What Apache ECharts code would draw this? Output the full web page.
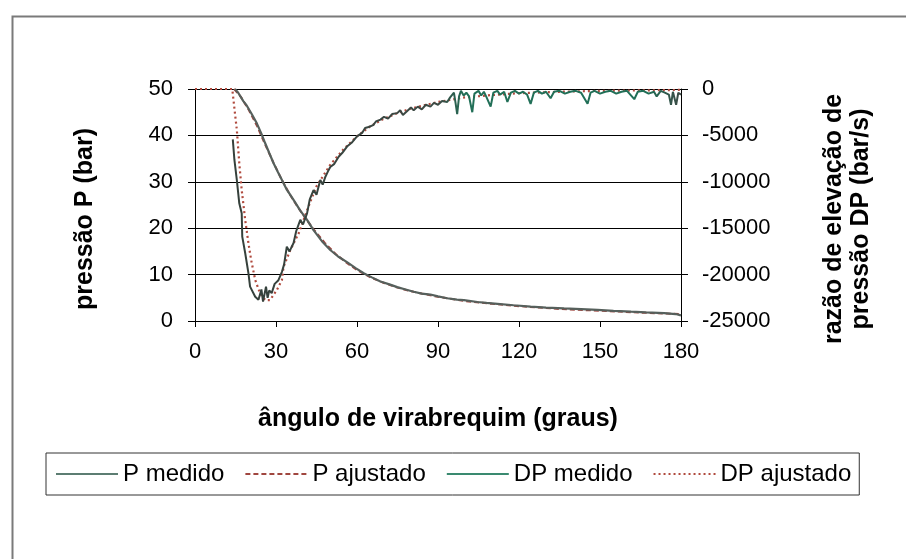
<!DOCTYPE html>
<html>
<head>
<meta charset="utf-8">
<script src="https://cdn.jsdelivr.net/npm/echarts@6/dist/echarts.min.js"></script>
<style>
html,body{margin:0;padding:0;background:#fff;}
#c{width:906px;height:559px;}
</style>
</head>
<body>
<div id="c"></div>
<script>
// ---- data ----
const xTicks = [0, 30, 60, 90, 120, 150, 180];
const pTicks = [0, 10, 20, 30, 40, 50];
const dpTicks = [-25000, -20000, -15000, -10000, -5000, 0];

const pMedAngle = [14.8, 16, 17.9, 19.2, 21, 22.9, 24.5, 26, 27.5, 29.1, 30.6, 32.2, 34, 36.5, 39, 41.5, 43.9, 47, 50.1, 53, 56.3, 59.5, 62.5, 65.5, 68.7, 72, 74.9, 78, 81, 84, 87.2, 90, 93.4, 97, 99.6, 104.6, 108, 112, 118, 124.3, 130, 136.7, 143, 149.1, 155, 161.5, 167, 173.8, 178, 180];
const pMedVal = [50, 49.2, 47.4, 46.4, 44.6, 42.6, 40.5, 38.3, 36.2, 34, 32.2, 30.4, 28.3, 26.1, 23.8, 21.8, 19.6, 17.2, 15.3, 13.9, 12.7, 11.4, 10.3, 9.4, 8.5, 7.9, 7.3, 6.8, 6.3, 5.9, 5.7, 5.3, 4.9, 4.6, 4.5, 4.1, 3.9, 3.7, 3.4, 3.1, 2.9, 2.7, 2.55, 2.4, 2.2, 2.0, 1.85, 1.7, 1.5, 1.2];

const pAjuAngle = [14.5, 17, 20, 23, 26, 29, 32, 35, 38, 41, 44, 48, 52, 56, 60, 65, 70, 75, 80, 90, 100, 110, 120, 135, 150, 165, 180];
const pAjuVal = [50, 48.3, 45.4, 42.0, 38.0, 34.2, 30.6, 27.4, 24.6, 22.1, 19.7, 16.9, 14.5, 12.6, 11.0, 9.4, 8.2, 7.2, 6.4, 5.2, 4.3, 3.7, 3.2, 2.6, 2.2, 1.8, 1.5];

const dpMedAngle = [14.0, 14.6, 15.5, 16.4, 17.3, 17.5, 18.6, 19.8, 20.4, 22.3, 23.5, 24.6, 25.2, 25.7, 26.3, 26.9, 27.5, 28.4, 29.5, 30.9, 32.2, 33, 34, 35, 36.5, 37.5, 39, 40, 41.5, 42.5, 43.9, 45, 46.4, 47.3, 48.3, 49.2, 50.1, 51.5, 53.2, 54.5, 56.3, 58, 60, 62, 63, 64.3, 66, 67, 68.7, 70, 71.5, 73, 74.9, 76, 77, 78.5, 80, 81, 82.5, 84, 85.5, 87.2, 88.5, 90, 91.5, 93.4, 94.5, 95.9, 96.5, 97.1, 97.8, 98.5, 99.5, 100.5, 101.5, 102.7, 103.5, 105, 106, 107, 108, 109.5, 110.5, 112, 113, 114.5, 115.7, 117, 118.5, 120, 121.5, 123, 124.3, 125.5, 127, 128.5, 130, 131.7, 133, 135, 137, 139, 141, 143, 145.4, 146.5, 148, 150, 152, 154, 156, 158, 160, 162.7, 164, 166, 168, 170, 171, 172.5, 174, 175.5, 176.3, 177, 178.2, 179, 180];
const dpMedVal = [-5420, -7650, -9810, -12320, -13390, -15900, -17700, -19860, -21300, -22380, -22700, -21600, -22900, -23100, -21300, -22500, -21700, -22000, -21000, -20600, -19700, -18900, -17000, -17500, -16600, -15300, -14100, -14600, -13400, -11900, -10900, -11400, -9800, -10300, -9450, -8900, -8400, -8100, -7300, -6900, -6200, -5800, -5100, -4700, -4200, -4100, -3900, -3500, -3300, -3000, -3200, -2700, -2600, -2300, -2800, -2400, -2000, -2300, -1900, -2200, -1700, -1900, -1500, -1700, -1300, -1400, -900, -400, -1500, -2700, -800, -200, -700, -400, -800, -2500, -500, -200, -700, -300, -900, -1900, -400, -200, -600, -300, -1400, -400, -200, -500, -300, -600, -1600, -400, -200, -500, -300, -1000, -300, -200, -500, -300, -200, -400, -1600, -400, -200, -500, -300, -200, -500, -300, -200, -1100, -300, -200, -500, -300, -800, -200, -400, -600, -1700, -300, -1700, -400, -600];

const dpAjuAngle = [0, 13.8, 14.2, 14.8, 15.5, 16.4, 17.3, 18.6, 19.8, 20.8, 22.3, 24.1, 26, 27.8, 30.3, 32.2, 32.8, 35.3, 38.4, 40.2, 42.5, 45, 50, 55, 60, 65, 70, 75, 80, 90, 100, 110, 120, 135, 150, 165, 180];
const dpAjuVal = [0, 0, -110, -2620, -4420, -8010, -10880, -14120, -16630, -18430, -20580, -22020, -22740, -22740, -21660, -20580, -19150, -17350, -15550, -14120, -12300, -10500, -8200, -6500, -5100, -4000, -3200, -2600, -2100, -1400, -900, -650, -450, -300, -200, -150, -100];

const names = ['P medido', 'P ajustado', 'DP medido', 'DP ajustado'];

const zip = (a, b) => a.map((x, i) => [x, b[i]]);
const FONT = '"Liberation Sans", Arial, sans-serif';

const dpMedColor = new echarts.graphic.LinearGradient(0, 0, 1, 0, [
  {offset: 0, color: '#35403b'},
  {offset: 0.46, color: '#3c4a44'},
  {offset: 0.52, color: '#216f57'},
  {offset: 0.92, color: '#216f57'},
  {offset: 1, color: '#3f4744'}
]);

const chart = echarts.init(document.getElementById('c'), null, {renderer: 'canvas'});
chart.setOption({
  animation: false,
  backgroundColor: '#fff',
  textStyle: {fontFamily: FONT, color: '#000'},
  graphic: [{
    type: 'rect', left: 10, top: 14, z: -10, silent: true,
    shape: {x: 0, y: 0, width: 1000, height: 1000},
    style: {fill: 'none', stroke: '#7a7a7a', lineWidth: 2}
  }],
  grid: {left: 195, right: 225, top: 89, bottom: 238, containLabel: false},
  legend: {
    data: [
      {name: names[0], lineStyle: {color: '#5c7d72'}},
      {name: names[1]},
      {name: names[2], lineStyle: {color: '#3a8a70'}},
      {name: names[3]}
    ],
    left: 46, top: 453,
    orient: 'horizontal',
    padding: [9, 8, 9, 9],
    itemGap: 20,
    itemWidth: 62, itemHeight: 14,
    itemStyle: {opacity: 0},
    borderColor: '#333', borderWidth: 1,
    textStyle: {fontFamily: FONT, fontSize: 24, color: '#000'}
  },
  xAxis: {
    type: 'value', min: xTicks[0], max: xTicks[xTicks.length - 1], interval: 30,
    name: 'ângulo de virabrequim (graus)', nameLocation: 'middle', nameGap: 86,
    nameTextStyle: {fontFamily: FONT, fontSize: 25, fontWeight: 'bold', color: '#000'},
    axisLine: {show: true, lineStyle: {color: '#000', width: 1}},
    axisTick: {show: true, length: 6, inside: false, lineStyle: {color: '#000'}},
    axisLabel: {fontFamily: FONT, fontSize: 22, color: '#000', margin: 20},
    splitLine: {show: false}
  },
  yAxis: [{
    type: 'value', min: pTicks[0], max: pTicks[pTicks.length - 1], interval: 10,
    position: 'left',
    name: 'pressão P (bar)', nameLocation: 'middle', nameGap: 97, nameRotate: 90,
    nameTextStyle: {fontFamily: FONT, fontSize: 25, fontWeight: 'bold', color: '#000', padding: [0, 28, 0, 0]},
    axisLine: {show: true, lineStyle: {color: '#000', width: 1}},
    axisTick: {show: true, length: 7, inside: false, lineStyle: {color: '#000'}},
    axisLabel: {fontFamily: FONT, fontSize: 22, color: '#000', margin: 22},
    splitLine: {show: true, lineStyle: {color: '#000', width: 1}}
  }, {
    type: 'value', min: dpTicks[0], max: dpTicks[dpTicks.length - 1], interval: 5000,
    position: 'right',
    name: 'razão de elevação de\npressão DP (bar/s)', nameLocation: 'middle', nameGap: 140, nameRotate: 90,
    nameTextStyle: {fontFamily: FONT, fontSize: 25, fontWeight: 'bold', color: '#000', lineHeight: 27, align: 'center', padding: [0, 28, 0, 0]},
    axisLine: {show: true, lineStyle: {color: '#000', width: 1}},
    axisTick: {show: true, length: 7, inside: false, lineStyle: {color: '#000'}},
    axisLabel: {fontFamily: FONT, fontSize: 22, color: '#000', margin: 21, formatter: v => String(v)},
    splitLine: {show: false}
  }],
  series: [{
    name: 'P ajustado', type: 'line', yAxisIndex: 0, symbol: 'none', clip: true,
    data: zip(pAjuAngle, pAjuVal),
    lineStyle: {color: '#a0463f', width: 2, type: [5, 3]}, itemStyle: {color: '#a0463f'}, z: 2
  }, {
    name: 'P medido', type: 'line', yAxisIndex: 0, symbol: 'none', clip: true,
    data: zip(pMedAngle, pMedVal),
    lineStyle: {color: '#56605c', width: 2.2}, itemStyle: {color: '#56605c'}, z: 3
  }, {
    name: 'DP ajustado', type: 'line', yAxisIndex: 1, symbol: 'none', clip: true,
    data: zip(dpAjuAngle, dpAjuVal),
    lineStyle: {color: '#b04a3e', width: 2.2, type: [2, 3]}, itemStyle: {color: '#b04a3e'}, z: 2
  }, {
    name: 'DP medido', type: 'line', yAxisIndex: 1, symbol: 'none', clip: true,
    data: zip(dpMedAngle, dpMedVal),
    lineStyle: {color: dpMedColor, width: 2}, itemStyle: {color: '#2f6a55'}, z: 3
  }]
});
</script>
</body>
</html>
